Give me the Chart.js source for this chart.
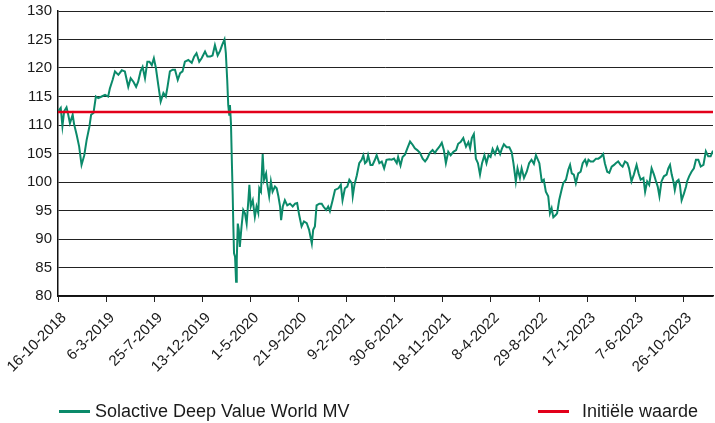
<!DOCTYPE html>
<html>
<head>
<meta charset="utf-8">
<script src="https://cdn.jsdelivr.net/npm/chart.js@4"></script>
<style>
  body { margin: 0; background: #fff; }
  #wrap { position: relative; width: 715px; height: 423px; font-family: "Liberation Sans", Arial, sans-serif; }
  .leg { position: absolute; top: 400px; font-size: 18px; color: #1a1a1a; line-height: 22px; }
  .leg span { display: inline-block; width: 31px; height: 3px; vertical-align: middle; margin-right: 5px; position: relative; top: -1px; }
</style>
</head>
<body>
<div id="wrap">
  <canvas id="chart" width="715" height="423"></canvas>
  <div class="leg" style="left:59px"><span style="background:#0b8a6a"></span>Solactive Deep Value World MV</div>
  <div class="leg" style="left:538px"><span style="background:#e2001a;margin-right:13px"></span>Initiële waarde</div>
</div>
<script>
// tick labels on the time axis, one every 141 days from 16-10-2018
const tickLabels = ['16-10-2018','6-3-2019','25-7-2019','13-12-2019','1-5-2020','21-9-2020','9-2-2021',
  '30-6-2021','18-11-2021','8-4-2022','29-8-2022','17-1-2023','7-6-2023','26-10-2023'];
const tickStep = 141;

// days since 16-10-2018
const days = [0,8,13,18,25,30,35,43,47,55,62,69,77,84,92,97,104,111,118,128,138,147,152,160,167,177,187,196,206,213,
  221,229,235,242,248,255,262,268,275,281,287,294,301,309,316,321,328,336,343,351,358,365,372,382,392,399,406,414,421,431,
  438,446,453,460,468,475,481,488,492,496,499,502,504,507,510,512,514,516,519,522,524,527,530,533,538,543,548,553,558,561,
  565,571,577,582,587,590,595,600,604,610,613,619,624,629,636,641,646,651,654,659,665,672,680,688,695,701,707,714,721,729,
  736,744,748,753,758,766,773,778,786,792,797,805,812,822,829,834,841,848,854,861,864,869,876,883,890,895,900,905,909,916,
  922,929,934,942,949,956,963,971,978,985,993,997,1004,1010,1017,1024,1032,1040,1046,1053,1061,1069,1076,1082,1090,1098,1105,1110,1118,1125,
  1131,1137,1144,1151,1159,1167,1173,1180,1188,1196,1203,1208,1213,1219,1225,1231,1237,1243,1250,1256,1262,1268,1274,1281,1288,1296,1301,1307,1315,1323,
  1330,1335,1342,1347,1354,1359,1366,1374,1381,1388,1395,1401,1411,1418,1424,1430,1437,1442,1447,1452,1459,1463,1469,1476,1481,1489,1496,1501,1506,1512,
  1518,1525,1532,1538,1545,1550,1555,1561,1569,1577,1584,1591,1598,1603,1610,1616,1623,1630,1635,1642,1649,1655,1662,1669,1674,1681,1688,1696,1702,1708,
  1716,1721,1727,1733,1740,1747,1753,1758,1763,1769,1776,1784,1789,1794,1799,1804,1808,1813,1819,1823,1828,1835,1841,1844,1850,1857,1864,1870,1877,1884,
  1892,1899,1906,1913,1920];

// Solactive Deep Value World MV
const indexValues = [112.4,113,109.8,112.4,113.1,111.8,110.3,111.8,110.2,108.2,106.2,103.0,104.7,107.4,109.7,111.8,112.1,115.0,114.7,115.0,115.3,115.0,116.4,117.9,119.4,118.8,119.6,119.4,116.7,118.2,
  117.6,116.7,117.6,119.4,120.2,118.2,121.1,121.1,120.5,121.7,120.0,117.0,114.1,115.6,115.0,116.7,119.4,119.7,119.7,117.9,119.1,119.4,121.1,121.4,120.9,122.0,122.6,121.1,121.7,122.9,
  122.0,122.0,122.2,124.0,122.2,123.0,124.0,125.0,122.6,117.9,113.5,111.8,113.5,110.3,102.7,98.0,92.2,87.5,86.9,82.5,86.3,92.7,91.6,88.6,92.2,95.1,94.5,92.7,96.8,99.5,
  95.7,96.8,93.9,95.7,94.6,98.9,98.3,104.9,100.4,101.5,99.8,97.5,100.1,98.3,99.2,98.9,97.5,95.7,93.3,95.7,96.8,95.9,96.2,95.7,96.2,96.3,94.2,92.2,93.1,92.8,
  91.6,89.2,91.6,92.2,95.9,96.2,96.2,95.7,95.1,95.7,94.9,96.8,98.6,98.9,99.5,96.8,98.9,99.2,100.4,99.8,97.5,99.5,101.2,103.3,103.9,104.7,103.3,103.6,104.7,103.0,
  103.0,103.9,104.7,103.3,103.6,102.4,103.9,104.0,103.9,104.1,103.3,104.4,102.9,104.4,104.8,105.9,107.1,106.5,105.9,105.6,105.1,104.1,103.6,104.1,105.1,105.6,105.1,105.6,106.2,106.9,
  105.6,103.3,105.3,104.7,105.3,105.6,106.7,107.0,107.7,106.2,107.0,105.9,107.7,108.4,104.1,103.3,101.3,103.3,104.7,103.3,104.7,104.4,105.8,104.9,106.1,104.9,105.8,106.6,106.1,106.1,
  105.2,103.3,100.1,102.4,100.7,102.4,100.7,101.8,103.3,103.9,103.2,104.7,103.3,100.1,100.4,98.3,97.5,94.5,95.4,93.8,94.2,94.5,96.8,98.6,99.8,100.4,102.2,103.0,101.5,101.3,
  99.8,101.5,101.8,103.3,103.9,103.0,103.9,103.6,103.6,104.1,104.1,104.4,104.9,103.3,101.8,101.6,102.7,103.0,103.3,103.6,103.0,102.7,103.6,103.3,102.4,100.1,101.3,103.0,101.5,100.4,
  100.7,98.3,100.1,99.5,102.4,101.3,100.1,99.2,97.5,100.1,101.0,101.3,102.4,103.0,101.3,100.1,98.6,100.1,100.4,99.5,96.8,98.0,99.2,100.1,101.0,101.8,102.4,103.9,103.9,102.7,
  103.0,105.4,104.5,104.5,105.5];

// initial value (horizontal reference)
const initialValue = 112.3;
const lastDay = 1920;

const tickFont = { family: 'Liberation Sans, Arial, sans-serif', size: 15 };

new Chart(document.getElementById('chart').getContext('2d'), {
  type: 'line',
  data: {
    datasets: [{
      label: 'Initiële waarde',
      data: [{ x: 0, y: initialValue }, { x: lastDay, y: initialValue }],
      borderColor: '#e2001a',
      borderWidth: 2.5,
      pointRadius: 0
    }, {
      label: 'Solactive Deep Value World MV',
      data: days.map((d, i) => ({ x: d, y: indexValues[i] })),
      borderColor: '#0b8a6a',
      borderWidth: 2,
      pointRadius: 0,
      tension: 0
    }]
  },
  options: {
    responsive: false,
    animation: false,
    layout: { padding: { top: 11, right: 2, left: 0, bottom: 0 } },
    plugins: { legend: { display: false }, tooltip: { enabled: false } },
    scales: {
      x: {
        type: 'linear',
        min: 0,
        max: lastDay,
        afterBuildTicks: (scale) => {
          scale.ticks = tickLabels.map((_, i) => ({ value: i * tickStep }));
        },
        afterFit: (scale) => {
          scale.height = 127;
          scale.paddingLeft = 0;
          scale.paddingRight = 0;
        },
        ticks: {
          autoSkip: false,
          minRotation: 45,
          maxRotation: 45,
          color: '#1a1a1a',
          font: tickFont,
          padding: 7,
          labelOffset: 6,
          callback: (v) => tickLabels[Math.round(v / tickStep)]
        },
        grid: { drawOnChartArea: false, drawTicks: true, tickLength: 6, color: '#222' },
        border: { color: '#111', width: 1.5 }
      },
      y: {
        min: 80,
        max: 130,
        afterFit: (scale) => {
          scale.width = 58;
          scale.paddingTop = 0;
          scale.paddingBottom = 0;
        },
        ticks: { stepSize: 5, color: '#1a1a1a', font: tickFont, padding: 6 },
        grid: { color: '#222', lineWidth: 1, drawTicks: false },
        border: { color: '#111', width: 1.5 }
      }
    }
  }
});
</script>
</body>
</html>
